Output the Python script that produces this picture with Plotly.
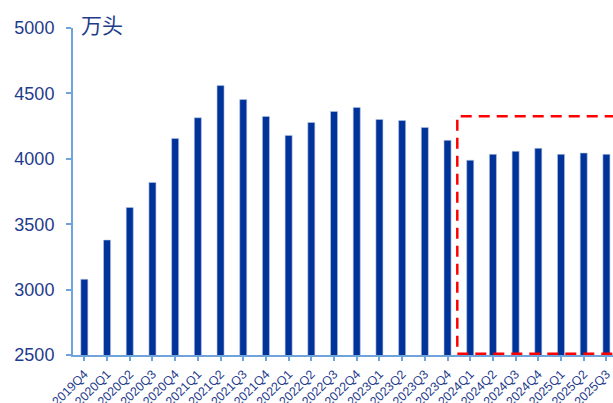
import plotly.graph_objects as go

categories = ["2019Q4", "2020Q1", "2020Q2", "2020Q3", "2020Q4",
              "2021Q1", "2021Q2", "2021Q3", "2021Q4",
              "2022Q1", "2022Q2", "2022Q3", "2022Q4",
              "2023Q1", "2023Q2", "2023Q3", "2023Q4",
              "2024Q1", "2024Q2", "2024Q3", "2024Q4",
              "2025Q1", "2025Q2", "2025Q3"]
values = [3079, 3379, 3628, 3819, 4156,
          4314, 4560, 4453, 4324,
          4179, 4278, 4362, 4393,
          4301, 4293, 4240, 4141,
          3989, 4034, 4057, 4080,
          4034, 4044, 4034]
y_ticks = [2500, 3000, 3500, 4000, 4500, 5000]
unit_label = "万头"
highlight_start = "2024Q1"
highlight_top = 4325
highlight_bottom = 2510

TEXT = "#1F3B8C"
AXIS = "#6FA3DB"
BAR = "#003399"
FONT = "Liberation Sans, Arial, sans-serif"

fig = go.Figure()
fig.add_trace(go.Bar(
    x=list(range(len(categories))), y=values,
    marker=dict(color=BAR, line=dict(color="#B8C6E6", width=0.6)),
    width=0.31,
))

x0 = categories.index(highlight_start) - 0.57
fig.add_shape(type="rect", xref="x", yref="y",
              x0=x0, x1=len(categories) + 1,
              y0=highlight_bottom, y1=highlight_top,
              line=dict(color="#FF0000", width=2.5, dash="11px,7px"),
              fillcolor="rgba(0,0,0,0)")

fig.add_annotation(text=unit_label, xref="paper", yref="paper",
                   x=0.011, y=1.012, xanchor="left", yanchor="middle",
                   showarrow=False,
                   font=dict(family="Noto Sans CJK SC", size=21, color=TEXT))

fig.update_layout(
    width=613, height=403,
    margin=dict(l=73, r=0, t=28, b=48),
    paper_bgcolor="white", plot_bgcolor="white",
    showlegend=False,
    font=dict(family=FONT, color=TEXT),
)
fig.update_xaxes(
    range=[-0.5, 23.29],
    tickmode="array",
    tickvals=list(range(len(categories))),
    ticktext=categories,
    tickangle=-45,
    tickfont=dict(size=12.5, color=TEXT, family=FONT),
    ticklabeloverflow="allow",
    ticklabelstandoff=1,
    showline=True, linecolor=AXIS, linewidth=2,
    ticks="outside", ticklen=4, tickcolor=AXIS, tickwidth=1.5,
    showgrid=False, zeroline=False, automargin=False,
)
fig.update_yaxes(
    range=[2500, 5000],
    tickmode="array", tickvals=y_ticks,
    ticktext=[str(v) for v in y_ticks],
    tickfont=dict(size=18, color=TEXT, family=FONT),
    showline=True, linecolor=AXIS, linewidth=2,
    ticks="outside", ticklen=5, tickcolor=AXIS, tickwidth=2,
    ticklabelstandoff=8,
    showgrid=False, zeroline=False, automargin=False,
)

fig.write_html("out.html",
               config={"displayModeBar": False},
               post_script="document.body.style.margin='0';document.body.style.overflow='hidden';")
